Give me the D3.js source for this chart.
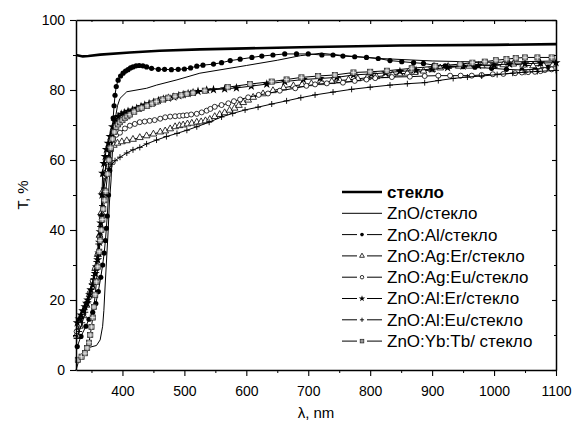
<!DOCTYPE html>
<html>
<head>
<meta charset="utf-8">
<script src="https://cdn.jsdelivr.net/npm/d3@7"></script>
<style>
  body { margin: 0; background: #fff; }
  svg text { font-family: Arial, "Liberation Sans", sans-serif; fill: #000; }
</style>
</head>
<body>
<div id="chart"></div>
<script>
// wavelength, nm / transmittance, %
var glass = [[325,90],[336,89.6],[345,89.7],[364,90.1],[412,90.7],[460,91.2],[525,91.6],[600,91.9],[687,92.2],[848,92.7],[1000,92.9],[1100,93.1]];

var znoGlass = [[325,0],[331,3.5],[337,5.4],[345,6.4],[358,7],[364,8.6],[368,12.5],[370,17],[372,24],[374.5,32],[377,40],[379,48],[381.5,54],[384,63],[388,71.4],[392,75.5],[396,77.6],[407,79.5],[439,80.5],[455,81.4],[488,82.9],[525,84.8],[600,87],[650,88.5],[687,89.8],[720,90.5],[760,89.8],[816,89],[900,88.3],[1000,87.9],[1100,88.3]];

var znoAl = [[327,6.7],[333,9.6],[341,12.5],[346,14.5],[352,16.5],[357,19],[361,22.4],[365,26.5],[368,30],[370.5,33.4],[372.5,37],[374,40.5],[375.5,44],[377.5,50],[379.5,57],[381.5,63],[383.5,68],[385,72],[386.5,75.5],[388,78.5],[390,81],[393,82.8],[397,84],[401,84.8],[405,85.4],[409,85.8],[413,86.3],[417,86.6],[422,86.9],[427,87],[433,86.9],[439,86.6],[447,86.2],[458,85.9],[468,85.9],[479,85.8],[490,85.9],[500,86],[510,86.3],[520,86.8],[530,87.1],[547,87.4],[560,87.8],[574,88.4],[590,88.8],[609,89.3],[625,89.7],[643,90],[662,90.3],[681,90.3],[700,90.3],[722,90],[740,90],[756,89.7],[775,89.5],[794,89.3],[813,89],[832,88.4],[851,88.1],[870,87.8],[886,87.6],[903,87.1],[921,86.9],[950,86.7],[969,86.5],[996,86.2],[1020,85.9],[1045,85.7],[1066,85.9],[1087,86.5]];

var agEr = [[326,10],[331,12.5],[337,15.5],[342,18.5],[347,21.5],[352,25],[356,29],[360,33],[363,38.5],[366,45],[368,51],[371,56],[375,60],[380,63],[386,64.2],[392,64.8],[399,65.2],[407,65.5],[417,65.9],[428,66.4],[439,66.9],[450,67.4],[461,68],[469,68.3],[477,68.9],[485,69.5],[492,69.8],[498,70],[505,70.3],[512,70.5],[520,70.8],[527,70.9],[534,71.2],[541,71.6],[549,72.4],[557,73],[565,73.5],[573,74.2],[581,74.8],[588,75.6],[595,76.4],[603,77.1],[611,77.9],[627,78.9],[643,79.8],[660,80.6],[676,81.2],[690,81.5],[705,81.8],[722,82.1],[738,82.4],[751,82.7],[765,82.9],[780,83.2],[795,83.5],[810,83.8],[824,84.1],[836,84.4],[848,84.6],[860,84.8],[872,85],[886,85.4],[900,85.8],[913,86.3],[926,86.7],[943,86.8],[960,86.8],[980,86.9],[1000,87],[1015,87.2],[1031,87.4],[1047,87.1],[1063,86.9],[1080,87],[1095,87.2]];

var agEu = [[326,11],[331,13],[337,16],[342,19],[347,22],[352,25.5],[356,29],[360,33],[363,38],[366,44],[368,50],[371,55.5],[375,59.5],[380,63],[385,66],[390,67.2],[396,67.8],[404,69],[412,69.8],[420,70.3],[428,70.8],[436,71],[444,71.2],[452,71.4],[461,71.8],[469,72.2],[477,72.4],[485,72.5],[492,72.6],[498,72.7],[504,72.8],[511,73],[520,73.2],[528,73.6],[536,74.1],[542,74.6],[549,75.2],[560,75.7],[571,76.2],[580,76.8],[590,77.3],[603,77.9],[620,78.6],[635,79],[654,79.8],[679,80.5],[697,81.2],[711,81.6],[730,81.9],[756,82.1],[775,82.6],[794,83],[808,83.4],[835,83.7],[864,83.8],[888,84],[910,84.1],[929,84.1],[946,84.1],[964,84.1],[980,84.3],[998,84.5],[1015,84.6],[1034,84.8],[1045,85],[1055,85.1],[1066,85.2],[1075,85.4],[1082,85.7],[1093,85.9]];

var alEr = [[327,13.5],[330,14.6],[333,15.7],[336,16.9],[339.5,18.1],[342,19.1],[344,20],[347,21.5],[349,22.9],[352,24.3],[354.5,25.7],[356,27.6],[358,29.5],[360,31.5],[362,33.4],[363,36.5],[364,39.5],[365,42],[366,44],[367,50],[368,56.2],[370,59],[372,61],[374,63],[377,64.8],[380,66.7],[384,69.5],[388,71],[393,72.4],[398,73.1],[403,73.5],[409,73.9],[416,74.3],[423,74.8],[430,75.3],[436,75.7],[443,76.1],[450,76.5],[458,77],[466,77.4],[474,77.7],[483,78],[491,78.4],[498,78.7],[506,79],[514,79.3],[522,79.6],[536,80],[547,80.1],[565,80.3],[584,80.6],[608,81.1],[633,81.7],[662,82.4],[692,83],[719,83.3],[746,83.6],[773,84.3],[802,84.6],[825,84.9],[848,85.3],[874,85.6],[900,86],[925,86.4],[950,86.8],[975,87],[1000,87.2],[1025,87.4],[1050,87.5],[1075,87.7],[1100,87.8]];

var alEu = [[326,9],[330,11],[335,13.5],[340,16.5],[345,19.5],[350,23],[354,27],[358,31],[361,36],[364,41],[367,47],[370,52],[374,55.5],[378,57.5],[383,58.8],[388,59.8],[396,60.8],[407,62],[417,62.9],[428,63.6],[439,64.6],[455,65.7],[471,66.7],[488,67.6],[504,68.5],[520,69.5],[540,70.8],[560,72.3],[578,73.3],[598,74.3],[619,75.1],[641,76],[665,76.9],[688,77.8],[711,78.6],[740,79.4],[770,80.2],[800,80.8],[832,81.4],[860,81.8],[888,82.1],[910,82.7],[934,83.3],[957,83.7],[980,84],[1005,84.4],[1030,84.8],[1050,85.1],[1070,85.3],[1100,85.6]];

var ybTb = [[328,2.9],[334,3.8],[339.5,4.8],[343,6.3],[346,7.8],[348,10],[350,12.3],[352,15],[354,18],[356,21.5],[358,25.2],[360,29.5],[362.6,33.8],[364,37],[366,40],[367.5,43],[369,46],[371,48.5],[373,51],[376,56],[378,60],[381,63.5],[384,66],[387,68],[390,69.5],[393,70.2],[396,70.8],[400,71.4],[404,72],[408,72.5],[412,73],[419,73.8],[427,74.6],[431,74.9],[440,75.5],[448,76.1],[455,76.7],[465,77.3],[474,77.8],[485,78.2],[495,78.5],[504,78.9],[514,79.2],[533,79.8],[570,80.8],[606,81.7],[641,82.4],[665,83],[689,83.6],[716,84],[743,84.3],[773,85],[800,85.2],[827,85.5],[867,86.2],[905,86.8],[945,87.4],[965,87.8],[985,88.1],[1003,88.5],[1020,88.8],[1035,89.1],[1050,89.3],[1070,89.3],[1093,89.3]];

var seriesNames = ["стекло", "ZnO/стекло", "ZnO:Al/стекло", "ZnO:Ag:Er/стекло", "ZnO:Ag:Eu/стекло", "ZnO:Al:Er/стекло", "ZnO:Al:Eu/стекло", "ZnO:Yb:Tb/ стекло"];
var seriesData = [glass, znoGlass, znoAl, agEr, agEu, alEr, alEu, ybTb];
var seriesMarks = ["none", "none", "dot", "triangle", "circle", "star", "plus", "square"];

var xTicks = [400, 500, 600, 700, 800, 900, 1000, 1100];
var xMinor = [350, 450, 550, 650, 750, 850, 950, 1050];
var yTicks = [0, 20, 40, 60, 80, 100];
var yMinor = [10, 30, 50, 70, 90];

var width = 575, height = 425;
var margin = {left: 76, right: 19, top: 20, bottom: 55};

var svg = d3.select("#chart").append("svg")
  .attr("width", width).attr("height", height);

var x = d3.scaleLinear().domain([325, 1100]).range([margin.left, width - margin.right]);
var y = d3.scaleLinear().domain([0, 100]).range([height - margin.bottom, margin.top]);

var line = d3.line().x(d => x(d[0])).y(d => y(d[1]));

// draws one marker of the given kind into a group
function drawMark(g, kind, scale) {
  var s = scale || 1;
  if (kind == "dot") {
    g.append("circle").attr("r", 2.6 * s).attr("fill", "#000");
  } else if (kind == "circle") {
    g.append("circle").attr("r", 2.5 * s).attr("fill", "#fff").attr("stroke", "#000").attr("stroke-width", 0.8);
  } else if (kind == "triangle") {
    g.append("path").attr("d", d3.symbol(d3.symbolTriangle, 20 * s * s)())
      .attr("fill", "#fff").attr("stroke", "#000").attr("stroke-width", 0.8);
  } else if (kind == "star") {
    g.append("path").attr("d", d3.symbol(d3.symbolStar, 26 * s * s)()).attr("fill", "#000");
  } else if (kind == "plus") {
    var r = 3 * s;
    g.append("path").attr("d", "M" + (-r) + ",0H" + r + "M0," + (-r) + "V" + r)
      .attr("stroke", "#000").attr("stroke-width", 0.9);
  } else if (kind == "square") {
    var h = 2.6 * s;
    g.append("rect").attr("x", -h).attr("y", -h).attr("width", 2 * h).attr("height", 2 * h)
      .attr("fill", "#999").attr("stroke", "#222").attr("stroke-width", 0.7);
    if (s >= 1) {
      g.append("path").attr("d", "M0," + (-h) + "V" + h + "M" + (-h) + ",0H" + h)
        .attr("stroke", "#fff").attr("stroke-width", 0.6);
    }
  }
}

var plot = svg.append("g").attr("class", "plot");

seriesData.forEach(function(data, i) {
  var g = plot.append("g");
  g.append("path")
    .datum(data)
    .attr("fill", "none")
    .attr("stroke", "#000")
    .attr("stroke-width", i == 0 ? 2.6 : 1)
    .attr("d", line);
  if (seriesMarks[i] != "none") {
    g.selectAll("g.mark").data(data).enter().append("g")
      .attr("class", "mark")
      .attr("transform", d => "translate(" + x(d[0]) + "," + y(d[1]) + ")")
      .each(function() { drawMark(d3.select(this), seriesMarks[i]); });
  }
});

// axes
var axisStroke = 1.5;
function styleAxis(g) {
  g.select(".domain").attr("stroke-width", axisStroke);
  g.selectAll(".tick line").attr("stroke-width", 1.1);
  g.selectAll(".tick text").style("font-size", "14px");
}

svg.append("g")
  .attr("transform", "translate(0," + y(0) + ")")
  .call(d3.axisBottom(x).tickValues(xTicks).tickSize(6).tickSizeOuter(0).tickPadding(10).tickFormat(d3.format("d")))
  .call(styleAxis);
svg.append("g")
  .attr("transform", "translate(0," + y(0) + ")")
  .call(d3.axisBottom(x).tickValues(xMinor).tickSize(3).tickFormat(""))
  .call(g => g.select(".domain").remove());

svg.append("g")
  .attr("transform", "translate(" + x(325) + ",0)")
  .call(d3.axisLeft(y).tickValues(yTicks).tickSize(6).tickSizeOuter(0).tickPadding(5))
  .call(styleAxis);
svg.append("g")
  .attr("transform", "translate(" + x(325) + ",0)")
  .call(d3.axisLeft(y).tickValues(yMinor).tickSize(3).tickFormat(""))
  .call(g => g.select(".domain").remove());

// top and right frame with inward ticks
svg.append("g")
  .attr("transform", "translate(0," + y(100) + ")")
  .call(d3.axisBottom(x).tickValues(xTicks).tickSize(4).tickSizeOuter(0).tickFormat(""))
  .call(styleAxis);
svg.append("g")
  .attr("transform", "translate(0," + y(100) + ")")
  .call(d3.axisBottom(x).tickValues(xMinor).tickSize(2).tickFormat(""))
  .call(g => g.select(".domain").remove());
svg.append("g")
  .attr("transform", "translate(" + x(1100) + ",0)")
  .call(d3.axisLeft(y).tickValues(yTicks).tickSize(4).tickSizeOuter(0).tickFormat(""))
  .call(styleAxis);
svg.append("g")
  .attr("transform", "translate(" + x(1100) + ",0)")
  .call(d3.axisLeft(y).tickValues(yMinor).tickSize(2).tickFormat(""))
  .call(g => g.select(".domain").remove());

// axis titles
svg.append("text")
  .attr("x", (x(325) + x(1100)) / 2)
  .attr("y", 418)
  .attr("text-anchor", "middle")
  .style("font-size", "15px")
  .text("λ, nm");
svg.append("text")
  .attr("transform", "translate(28," + y(50) + ") rotate(-90)")
  .attr("text-anchor", "middle")
  .style("font-size", "15px")
  .text("T, %");

// legend
var legend = svg.append("g").attr("transform", "translate(342,192)");
seriesNames.forEach(function(name, i) {
  var row = legend.append("g").attr("transform", "translate(0," + (i * 21.3) + ")");
  if (seriesMarks[i] == "none") {
    row.append("line").attr("x1", 0).attr("x2", 40).attr("y1", 0).attr("y2", 0)
      .attr("stroke", "#000").attr("stroke-width", i == 0 ? 2.6 : 1);
  } else {
    row.append("line").attr("x1", 0).attr("x2", 15).attr("stroke", "#000").attr("stroke-width", 1);
    row.append("line").attr("x1", 25).attr("x2", 40).attr("stroke", "#000").attr("stroke-width", 1);
    var m = row.append("g").attr("transform", "translate(20,0)");
    drawMark(m, seriesMarks[i], 0.7);
  }
  row.append("text")
    .attr("x", 45)
    .attr("y", 0)
    .attr("dy", "0.35em")
    .style("font-size", "17px")
    .style("font-weight", i == 0 ? "bold" : "normal")
    .text(name);
});
</script>
</body>
</html>
